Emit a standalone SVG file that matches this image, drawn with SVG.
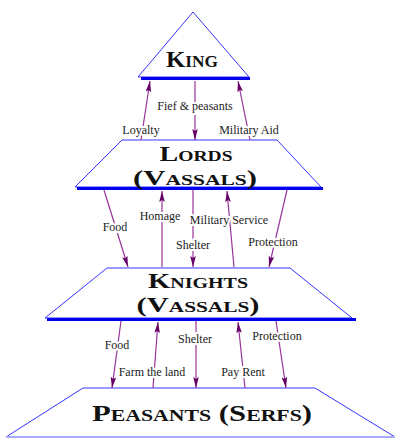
<svg xmlns="http://www.w3.org/2000/svg" width="395" height="438" viewBox="0 0 395 438">
<style>
.tier{fill:#fff;stroke:#3333ff;stroke-width:1}
.bar{stroke:#0000ee;stroke-width:3}
.ttl{font-family:"Liberation Serif",serif;font-variant:small-caps;font-weight:bold;fill:#111;text-anchor:middle}
.ln{stroke:#993399;stroke-width:1.2;fill:none;marker-end:url(#ah)}
.lbl{font-family:"Liberation Serif",serif;font-size:12px;fill:#222;text-anchor:middle;stroke:#fff;stroke-width:4;paint-order:stroke;stroke-linejoin:round}
</style>
<defs>
<marker id="ah" markerUnits="userSpaceOnUse" markerWidth="12" markerHeight="8" refX="11" refY="4" orient="auto">
<path d="M0,1.2 L11,4 L0,6.8 L2,4 z" fill="#660066"/>
</marker>
</defs>
<rect width="395" height="438" fill="#fff"/>
<g id="king">
<polygon class="tier" points="193,12 249,77 138,77"/>
<line class="bar" x1="141" y1="78.5" x2="250" y2="78.5"/>
<text class="ttl" x="192" y="67" font-size="23" textLength="52" lengthAdjust="spacingAndGlyphs">King</text>
</g>
<g id="lords">
<polygon class="tier" points="122,140 277,140 321,187 75,187"/>
<line class="bar" x1="77" y1="188.5" x2="323" y2="188.5"/>
<text class="ttl" x="196" y="161" font-size="21.5" textLength="73" lengthAdjust="spacingAndGlyphs">Lords</text>
<text class="ttl" x="195" y="185" font-size="21.5" textLength="124" lengthAdjust="spacingAndGlyphs">(Vassals)</text>
</g>
<g id="knights">
<polygon class="tier" points="107,268 290,268 352,318 45,318"/>
<line class="bar" x1="47" y1="319.5" x2="356" y2="319.5"/>
<text class="ttl" x="198" y="288" font-size="21.5" textLength="100" lengthAdjust="spacingAndGlyphs">Knights</text>
<text class="ttl" x="198" y="312" font-size="21.5" textLength="123" lengthAdjust="spacingAndGlyphs">(Vassals)</text>
</g>
<g id="peasants">
<polygon points="83,388 315,388 395,437 6,437" fill="#fff" stroke="#3333ff" stroke-width="1"/>
<line x1="6" y1="437" x2="395" y2="437" stroke="#aaaaff" stroke-width="2"/>
<text class="ttl" x="202" y="421" font-size="24" textLength="220" lengthAdjust="spacingAndGlyphs">Peasants (Serfs)</text>
</g>
<g id="connectors">
<line class="ln" x1="141" y1="140" x2="150" y2="81"/>
<line class="ln" x1="195" y1="81" x2="195" y2="140"/>
<line class="ln" x1="250" y1="140" x2="238" y2="81"/>
<line class="ln" x1="104" y1="190" x2="128" y2="267"/>
<line class="ln" x1="162" y1="267" x2="162" y2="191"/>
<line class="ln" x1="193" y1="190" x2="193" y2="267"/>
<line class="ln" x1="234" y1="267" x2="227" y2="191"/>
<line class="ln" x1="287" y1="190" x2="269" y2="267"/>
<line class="ln" x1="121" y1="321" x2="112" y2="388"/>
<line class="ln" x1="153" y1="388" x2="158" y2="322"/>
<line class="ln" x1="196" y1="321" x2="196" y2="388"/>
<line class="ln" x1="245" y1="388" x2="238" y2="322"/>
<line class="ln" x1="276" y1="321" x2="286" y2="388"/>
</g>
<g id="labels">
<text class="lbl" x="195" y="110">Fief &amp; peasants</text>
<text class="lbl" x="141" y="134">Loyalty</text>
<text class="lbl" x="249" y="134">Military Aid</text>
<text class="lbl" x="115" y="231">Food</text>
<text class="lbl" x="160" y="220">Homage</text>
<text class="lbl" x="229" y="224">Military Service</text>
<text class="lbl" x="193" y="249">Shelter</text>
<text class="lbl" x="273" y="246">Protection</text>
<text class="lbl" x="117" y="349">Food</text>
<text class="lbl" x="152" y="376">Farm the land</text>
<text class="lbl" x="195" y="343">Shelter</text>
<text class="lbl" x="243" y="376">Pay Rent</text>
<text class="lbl" x="277" y="340">Protection</text>
</g>
</svg>
